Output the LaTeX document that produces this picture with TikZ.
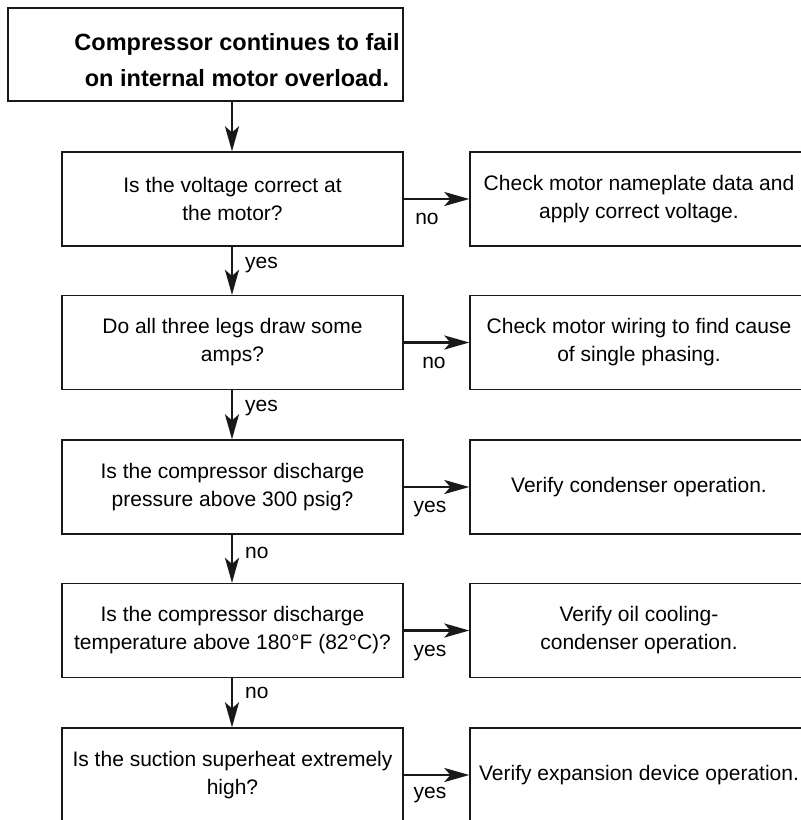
\documentclass[tikz,border=0pt]{standalone}
\usepackage{fontspec}
\setmainfont{Liberation Sans}
\usetikzlibrary{arrows.meta}
\tikzset{
  qbox/.style={draw=black!90, line width=1.3pt, rectangle, inner sep=0pt,
    minimum width=341pt, minimum height=94pt, align=center,
    font=\fontsize{21}{28}\selectfont},
  abox/.style={qbox, minimum width=338pt},
  flow/.style={draw=black!90, line width=2.7pt,
    -{Stealth[length=25pt,width=14pt,inset=6pt]}},
  lbl/.style={inner sep=0pt, font=\fontsize{21}{28}\selectfont},
}
\begin{document}
\begin{tikzpicture}[x=1pt,y=-1pt]
\useasboundingbox (0,0) rectangle (801,820);
\clip (0,0) rectangle (801,820);
% top box
\node[qbox, minimum width=395pt, minimum height=93pt] (top) at (205.5,54.5) {};
\node[lbl, align=center, font=\bfseries\fontsize{23.5}{36}\selectfont] (toptext) at (237,60)
  {Compressor continues to fail\\on internal motor overload.};
% left question boxes
\node[qbox] (q1) at (232.5,199) {Is the voltage correct at\\the motor?};
\node[qbox] (q2) at (232.5,342.5) {Do all three legs draw some\\amps?};
\node[qbox] (q3) at (232.5,487) {Is the compressor discharge\\pressure above 300 psig?};
\node[qbox] (q4) at (232.5,630.5) {Is the compressor discharge\\temperature above 180°F (82°C)?};
\node[qbox] (q5) at (232.5,775) {Is the suction superheat extremely\\high?};
% right action boxes
\node[abox] (a1) at (639,199) {Check motor nameplate data and\\apply correct voltage.};
\node[abox] (a2) at (639,342.5) {Check motor wiring to find cause\\of single phasing.};
\node[abox] (a3) at (639,487) {Verify condenser operation.};
\node[abox] (a4) at (639,630.5) {Verify oil cooling-\\condenser operation.};
\node[abox] (a5) at (639,775) {Verify expansion device operation.};
% vertical flow
\coordinate (t0) at (232,101);
\draw[flow] (t0) -- (q1.north -| t0);
\draw[flow] (q1.south -| t0) -- (q2.north -| t0);
\draw[flow] (q2.south -| t0) -- (q3.north -| t0);
\draw[flow] (q3.south -| t0) -- (q4.north -| t0);
\draw[flow] (q4.south -| t0) -- (q5.north -| t0);
% horizontal flow
\draw[flow] (q1.east) -- (a1.west);
\draw[flow] (q2.east) -- (a2.west);
\draw[flow] (q3.east) -- (a3.west);
\draw[flow] (q4.east) -- (a4.west);
\draw[flow] (q5.east) -- (a5.west);
% labels vertical
\node[lbl, anchor=west] (v1) at (245,265) {yes};
\node[lbl, anchor=west] (v2) at (245,408) {yes};
\node[lbl, anchor=west] (v3) at (245,553) {no};
\node[lbl, anchor=west] (v4) at (245,693) {no};
% labels horizontal
\node[lbl] (h1) at (427,219) {no};
\node[lbl] (h2) at (434,363) {no};
\node[lbl] (h3) at (430,509) {yes};
\node[lbl] (h4) at (430,653) {yes};
\node[lbl] (h5) at (430,795) {yes};
\end{tikzpicture}
\end{document}
